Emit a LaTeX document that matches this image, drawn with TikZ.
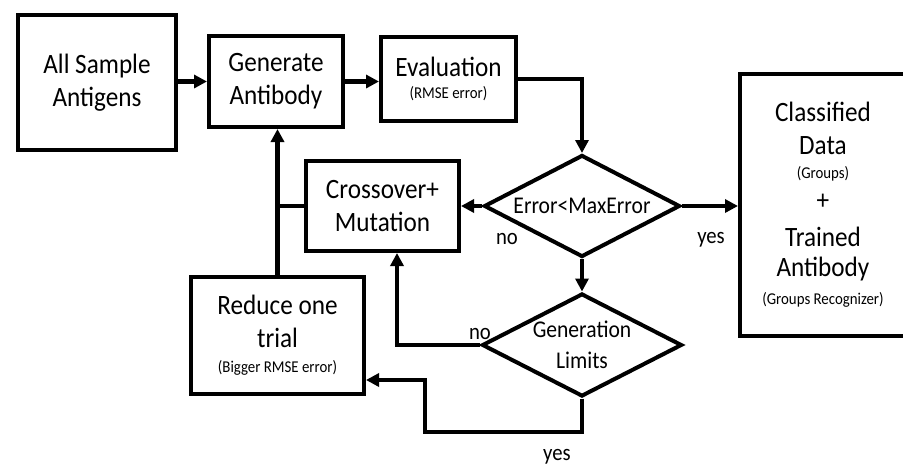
\documentclass[tikz,border=0pt]{standalone}
\usepackage{fontspec}
\setmainfont{Carlito}[FakeStretch=0.9]
\usetikzlibrary{arrows.meta,shapes.geometric}

\newcommand{\bigtxt}{\fontsize{28}{33}\selectfont}
\newcommand{\smalltxt}{\fontsize{16.5}{18}\selectfont}
\newcommand{\decidetxt}{\fontsize{24}{31}\selectfont}

\begin{document}
\begin{tikzpicture}[x=1pt, y=-1pt,
    box/.style={draw, line width=4pt, align=center, inner sep=0pt, font=\bigtxt},
    decision/.style={draw, diamond, aspect=2, line width=4pt, align=center, inner sep=0pt, font=\decidetxt},
    flow/.style={line width=4.5pt},
    arrow/.style={flow, -{Triangle[length=13pt, width=13pt]}},
    answer/.style={inner sep=0pt, font=\fontsize{23}{25}\selectfont}]
    \path[use as bounding box, clip] (0, 0) rectangle (903, 466);

    \node (antigens) at (97, 82.5) [box, minimum width=158pt, minimum height=135pt] {All Sample\\Antigens};
    \node (generate) at (276, 81.5) [box, minimum width=134pt, minimum height=91pt] {Generate\\Antibody};
    \node (evaluate) at (448.5, 79) [box, minimum width=135pt, minimum height=84pt] {Evaluation\\[-11pt]{\smalltxt (RMSE error)}};
    \node (cross) at (382.5, 206) [box, minimum width=153pt, minimum height=90pt] {Crossover+\\Mutation};
    \node (reduce) at (277.5, 335.5) [box, minimum width=173pt, minimum height=117pt] {Reduce one\\trial\\[-8pt]{\smalltxt (Bigger RMSE error)}};
    \node (result) at (823, 205) [box, minimum width=166pt, minimum height=262pt] {Classified\\Data\\[-9pt]{\smalltxt (Groups)}\\[-2pt]+\\[4pt]Trained\\[-3pt]Antibody\\[-5pt]{\smalltxt (Groups Recognizer)}};

    \node (maxerror) at (582, 206) [decision, minimum width=196pt, minimum height=102pt] {Error<MaxError};
    \node (limits) at (582, 345) [decision, minimum width=200pt, minimum height=103pt] {Generation\\Limits};

    \coordinate (yesturn) at (425, 432);

    \draw [arrow] (antigens.east |- generate) -- (generate.west);
    \draw [arrow] (generate.east) -- (generate.east -| evaluate.west);
    \draw [arrow] (evaluate.east) -| (maxerror.north);
    \draw [arrow] (maxerror.west) -- (cross.east);
    \draw [arrow] (maxerror.east) -- (maxerror.east -| result.west);
    \draw [arrow] (maxerror.south) -- (limits.north);
    \draw [arrow] (limits.west) -| ([xshift=14.5pt]cross.south);
    \draw [arrow] (limits.south) |- (yesturn) |- ([yshift=-44.5pt]reduce.east);
    \draw [arrow] (reduce.north) -- (reduce.north |- generate.south);
    \draw [flow] (cross.west) -- (cross.west -| reduce.north);

    \node (no1) at (507, 239) [answer] {no};
    \node (yes1) at (711, 240) [answer] {yes};
    \node (no2) at (480, 334) [answer] {no};
    \node (yes2) at (557, 457) [answer] {yes};
\end{tikzpicture}
\end{document}
